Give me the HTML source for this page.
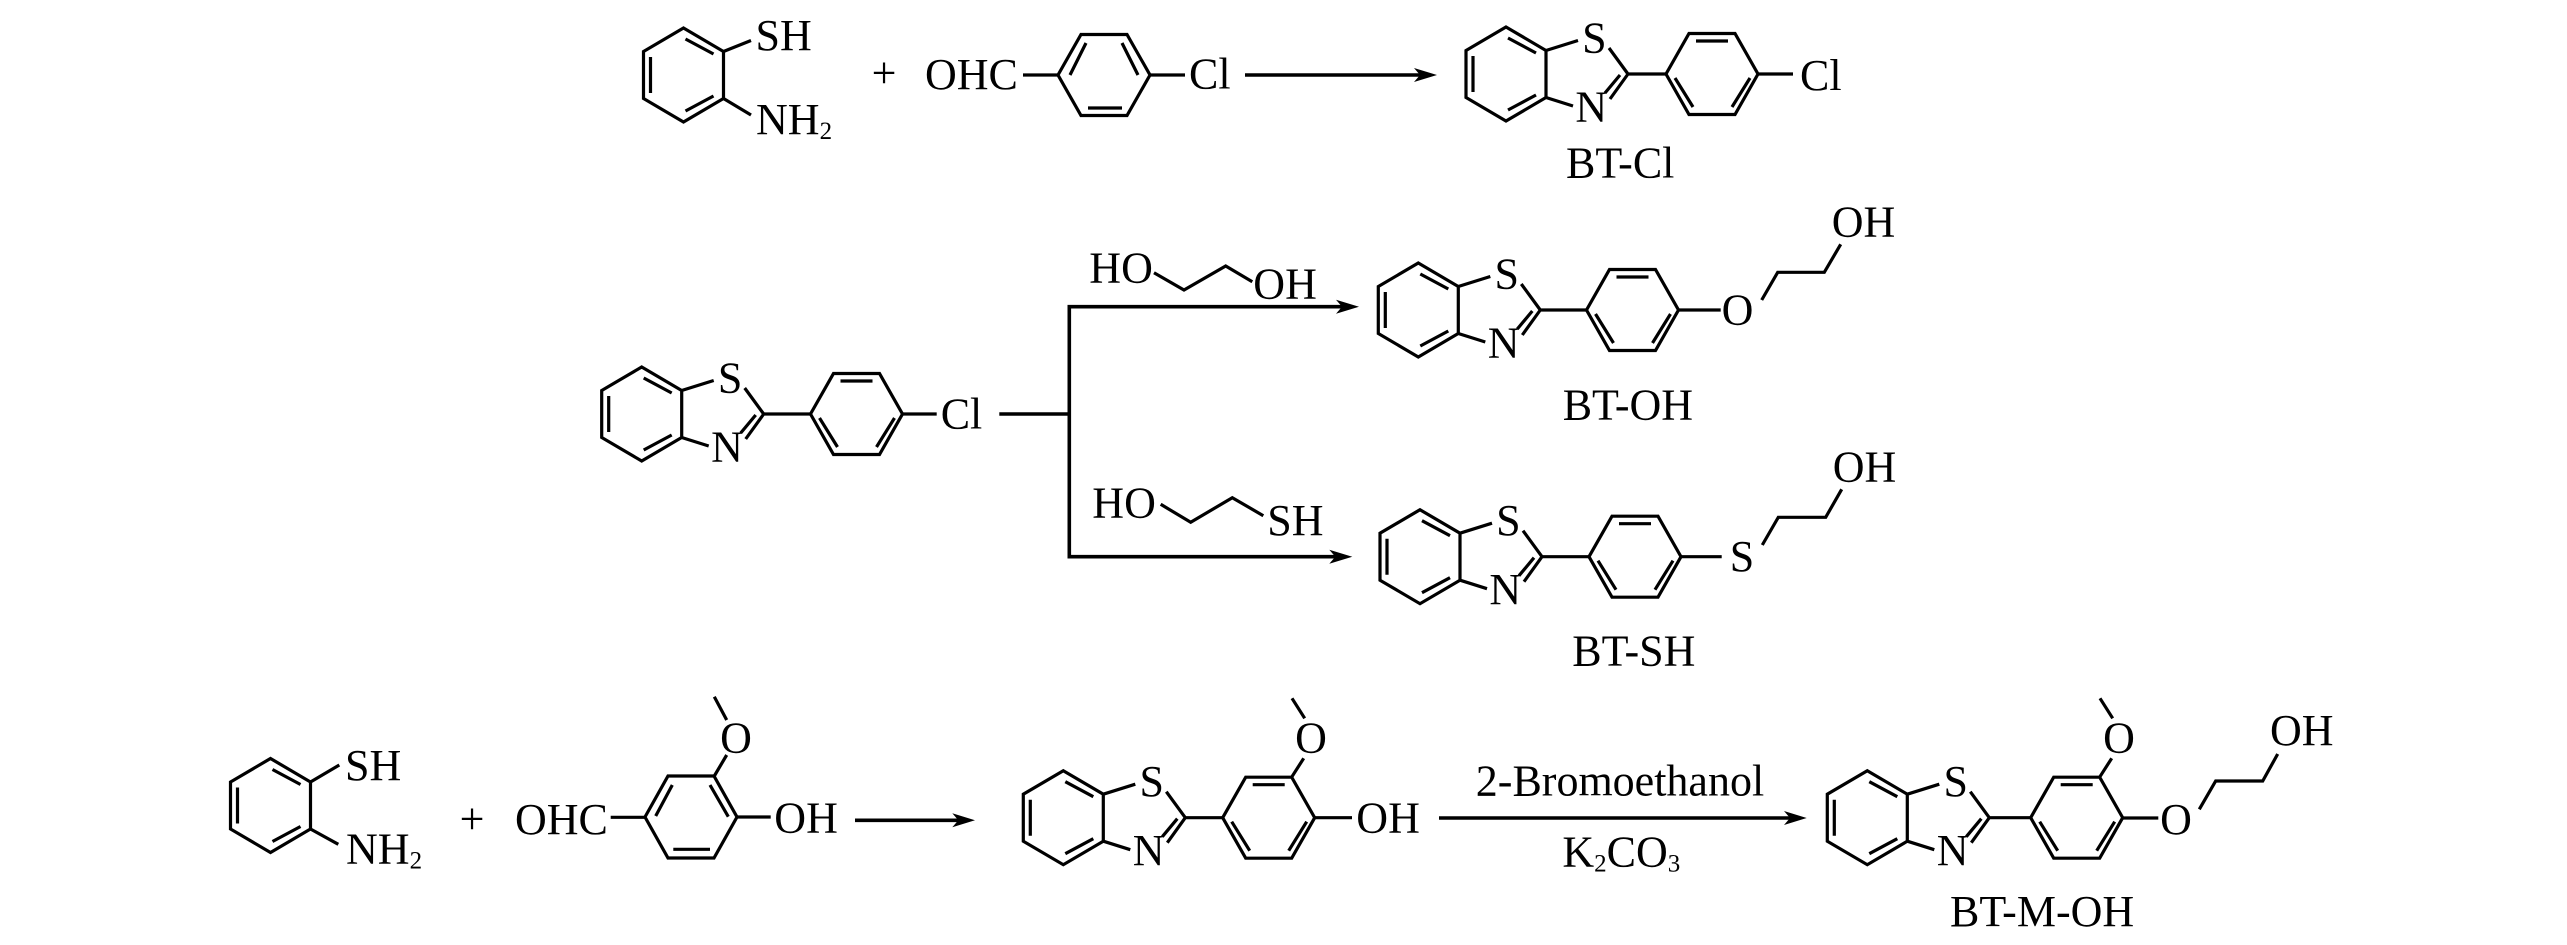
<!DOCTYPE html>
<html>
<head>
<meta charset="utf-8">
<style>
html,body{margin:0;padding:0;background:#fff;}
svg{display:block;}
text{font-family:"Liberation Serif",serif;font-size:44px;fill:#000;}
.m{text-anchor:middle;}
.sub{font-size:25px;}
path{fill:none;stroke:#000;stroke-width:3.2;stroke-linejoin:miter;}
.a{stroke-width:3.6;}
.h{fill:#000;stroke:none;}
</style>
</head>
<body>
<svg width="2567" height="945" viewBox="0 0 2567 945" xmlns="http://www.w3.org/2000/svg">
<rect width="2567" height="945" fill="#fff"/>

<!-- Row 1 -->
<g transform="translate(683.5,75)"><path d="M0,-47 L40,-23.5 V23.5 L0,47 L-40,23.5 V-23.5 Z M2,-36 L30,-21 M2,36 L30,21 M-33,-18 V18"/></g>
<path d="M723.5,51.5 L751,40.5 M723.5,98.5 L751,115"/>
<text x="755.5" y="50">SH</text>
<text x="756" y="134">NH<tspan class="sub" dy="5">2</tspan></text>
<text class="m" x="884" y="87.5">+</text>
<text x="925" y="89">OHC</text>
<path d="M1023,75 H1058.5"/>
<g transform="translate(1104,75)"><path d="M-46,0 L-23,-40.5 H23 L46,0 L23,40.5 H-23 Z M-34,0 L-18,-32 M34,0 L18,-32 M-16,33 H18"/></g>
<path d="M1150,75 H1185"/>
<text x="1189" y="88.5">Cl</text>
<path class="a" d="M1245,75 H1425"/>
<path class="h" d="M1437,75 L1414,68 L1420,75 L1414,82 Z"/>

<g transform="translate(1506,74)"><path d="M0,-47 L40,-23.5 V23.5 L0,47 L-40,23.5 V-23.5 Z M2,-36 L30,-21 M2,36 L30,21 M-33,-18 V18 M40,-23.5 L72,-33.5 M103,-26 L122,0 M40,23.5 L67,32 M104,25 L122,0 M99,19 L114,1 M122,0 H160"/></g>
<g transform="translate(1712,74)"><path d="M-46,0 L-23,-40.5 H23 L46,0 L23,40.5 H-23 Z M-16,-33 H16 M-37,4 L-19,33 M38,4 L20,33"/></g>
<path d="M1758,74 H1793"/>
<text class="m" x="1594.4" y="52.3">S</text>
<text class="m" x="1591.3" y="121.4">N</text>
<text x="1800" y="90">Cl</text>
<text x="1566" y="177.5">BT-Cl</text>

<!-- Row 2 reactant -->
<g transform="translate(641.7,414)"><path d="M0,-47 L40,-23.5 V23.5 L0,47 L-40,23.5 V-23.5 Z M2,-36 L30,-21 M2,36 L30,21 M-33,-18 V18 M40,-23.5 L72,-33.5 M103,-26 L122,0 M40,23.5 L67,32 M104,25 L122,0 M99,19 L114,1 M122,0 H168.3"/></g>
<g transform="translate(856.5,414)"><path d="M-46,0 L-23,-40.5 H23 L46,0 L23,40.5 H-23 Z M-16,-33 H16 M-37,4 L-19,33 M38,4 L20,33"/></g>
<path d="M902.5,414 H936.7"/>
<text class="m" x="730.1" y="392.3">S</text>
<text class="m" x="727" y="461.4">N</text>
<text x="940.7" y="428.3">Cl</text>

<!-- Branch arrows -->
<path class="a" d="M999.3,414 H1069.3 M1347,306.7 H1069.3 V556.7 H1340"/>
<path class="h" d="M1359,306.7 L1336,299.7 L1342,306.7 L1336,313.7 Z"/>
<path class="h" d="M1352.3,556.7 L1329.3,549.7 L1335.3,556.7 L1329.3,563.7 Z"/>

<text x="1089.3" y="282.7">HO</text>
<text x="1253.3" y="298.3">OH</text>
<path d="M1154,272.7 L1184,290 L1225.7,266 L1252.3,281.7"/>
<text x="1092.3" y="517.3">HO</text>
<text x="1267.3" y="535">SH</text>
<path d="M1160.7,504.3 L1190.7,522.3 L1232.3,497.7 L1263.3,515.7"/>

<!-- BT-OH -->
<g transform="translate(1418.3,310)"><path d="M0,-47 L40,-23.5 V23.5 L0,47 L-40,23.5 V-23.5 Z M2,-36 L30,-21 M2,36 L30,21 M-33,-18 V18 M40,-23.5 L72,-33.5 M103,-26 L122,0 M40,23.5 L67,32 M104,25 L122,0 M99,19 L114,1 M122,0 H168.4"/></g>
<g transform="translate(1632.5,310)"><path d="M-46,0 L-23,-40.5 H23 L46,0 L23,40.5 H-23 Z M-16,-33 H16 M-37,4 L-19,33 M38,4 L20,33"/></g>
<path d="M1678.5,310 H1720.7"/>
<path d="M1761.7,300 L1777.7,272.3 H1824.3 L1840.7,244.3"/>
<text class="m" x="1506.7" y="288.3">S</text>
<text class="m" x="1503.6" y="357.4">N</text>
<text class="m" x="1737.5" y="324.3">O</text>
<text x="1831.7" y="236.7">OH</text>
<text x="1562.7" y="419.3">BT-OH</text>

<!-- BT-SH -->
<g transform="translate(1420,556.7)"><path d="M0,-47 L40,-23.5 V23.5 L0,47 L-40,23.5 V-23.5 Z M2,-36 L30,-21 M2,36 L30,21 M-33,-18 V18 M40,-23.5 L72,-33.5 M103,-26 L122,0 M40,23.5 L67,32 M104,25 L122,0 M99,19 L114,1 M122,0 H169"/></g>
<g transform="translate(1635,556.7)"><path d="M-46,0 L-23,-40.5 H23 L46,0 L23,40.5 H-23 Z M-16,-33 H16 M-37,4 L-19,33 M38,4 L20,33"/></g>
<path d="M1681,556.7 H1721.7"/>
<path d="M1762.3,545 L1778.3,517.3 H1825.7 L1841.7,489.3"/>
<text class="m" x="1508.4" y="535">S</text>
<text class="m" x="1505.3" y="604.1">N</text>
<text class="m" x="1742" y="571">S</text>
<text x="1832.7" y="481.7">OH</text>
<text x="1572.3" y="665.7">BT-SH</text>

<!-- Row 3 -->
<g transform="translate(270.5,805.5)"><path d="M0,-47 L40,-23.5 V23.5 L0,47 L-40,23.5 V-23.5 Z M2,-36 L30,-21 M2,36 L30,21 M-33,-18 V18"/></g>
<path d="M310.5,782 L339.3,765 M310.5,829 L338.3,844.3"/>
<text x="345" y="780">SH</text>
<text x="346" y="863.3">NH<tspan class="sub" dy="5">2</tspan></text>
<text class="m" x="472" y="833.5">+</text>
<text x="515" y="834">OHC</text>
<path d="M610.7,817.3 H645"/>
<g transform="translate(691,817)"><path d="M-46,0 L-23,-41 H23 L46,0 L23,41 H-23 Z M-35.3,-1 L-18.7,-32 M37.3,-0.3 L19,-32 M-17.7,32.3 H19"/></g>
<path d="M714.3,776 L726.7,755 M726.7,720 L714.3,696.7 M737,817 H770.7"/>
<text class="m" x="736" y="752.7">O</text>
<text x="774.3" y="832.7">OH</text>
<path class="a" d="M855,820.3 H965"/>
<path class="h" d="M975,820.3 L952.3,813.3 L958.3,820.3 L952.3,827.3 Z"/>

<g transform="translate(1063.3,817.7)"><path d="M0,-47 L40,-23.5 V23.5 L0,47 L-40,23.5 V-23.5 Z M2,-36 L30,-21 M2,36 L30,21 M-33,-18 V18 M40,-23.5 L72,-33.5 M103,-26 L122,0 M40,23.5 L67,32 M104,25 L122,0 M99,19 L114,1 M122,0 H159.4"/></g>
<g transform="translate(1268.7,817.7)"><path d="M-46,0 L-23,-40.5 H23 L46,0 L23,40.5 H-23 Z M-16,-33 H16 M-37,4 L-19,33 M38,4 L20,33"/></g>
<path d="M1291.3,777.7 L1303.7,758.3 M1304.7,718.3 L1292,698.3 M1314.7,817.7 H1352"/>
<text class="m" x="1151.7" y="796">S</text>
<text class="m" x="1148.6" y="865.1">N</text>
<text class="m" x="1311" y="752.7">O</text>
<text x="1356.3" y="832.7">OH</text>

<text x="1475.8" y="795.7">2-Bromoethanol</text>
<path class="a" d="M1439,818 H1796"/>
<path class="h" d="M1806.7,818 L1784,811 L1790,818 L1784,825 Z"/>
<text x="1562.4" y="866.7">K<tspan class="sub" dy="5">2</tspan><tspan dy="-5">CO</tspan><tspan class="sub" dy="5">3</tspan></text>

<!-- BT-M-OH -->
<g transform="translate(1867.3,817.7)"><path d="M0,-47 L40,-23.5 V23.5 L0,47 L-40,23.5 V-23.5 Z M2,-36 L30,-21 M2,36 L30,21 M-33,-18 V18 M40,-23.5 L72,-33.5 M103,-26 L122,0 M40,23.5 L67,32 M104,25 L122,0 M99,19 L114,1 M122,0 H163.4"/></g>
<g transform="translate(2076.7,817.7)"><path d="M-46,0 L-23,-40.5 H23 L46,0 L23,40.5 H-23 Z M-16,-33 H16 M-37,4 L-19,33 M38,4 L20,33"/></g>
<path d="M2099.3,777.7 L2111.7,758.3 M2112.7,718.3 L2100,698.3 M2122.7,818 H2158.3"/>
<path d="M2199.3,809.3 L2215.7,781 H2262.7 L2277.7,754"/>
<text class="m" x="1955.7" y="796">S</text>
<text class="m" x="1952.6" y="865.1">N</text>
<text class="m" x="2119" y="752.7">O</text>
<text class="m" x="2176" y="834">O</text>
<text x="2270" y="745">OH</text>
<text x="1950" y="926">BT-M-OH</text>
</svg>
</body>
</html>
